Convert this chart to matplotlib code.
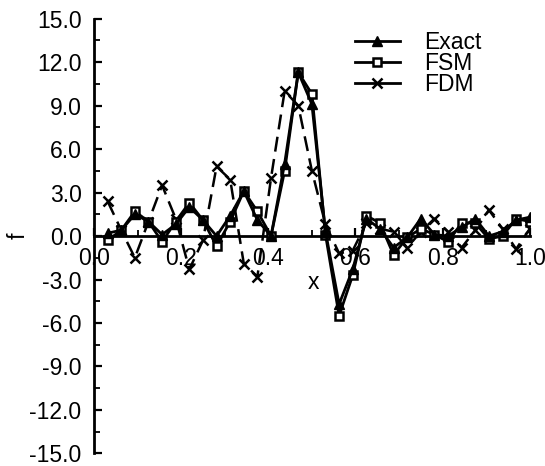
import numpy as np
import matplotlib
matplotlib.use("Agg")
import matplotlib.pyplot as plt
from matplotlib.ticker import MultipleLocator, FormatStrFormatter
from matplotlib.lines import Line2D

plt.rcParams['font.family'] = ['Liberation Sans', 'DejaVu Sans']

x = [k / 32 for k in range(1, 33)]

exact = [0.2, 0.4, 1.5, 1.0, 0.1, 0.8, 2.0, 1.1, 0.0, 1.4, 3.1, 1.1, 0.0, 5.0,
         11.3, 9.1, 0.3, -4.7, -2.3, 1.2, 0.5, -0.8, -0.1, 1.2, 0.1, 0.0,
         0.6, 1.2, 0.0, 0.3, 1.1, 1.3]
fsm = [-0.3, 0.4, 1.7, 1.0, -0.4, 1.0, 2.3, 1.1, -0.7, 1.0, 3.1, 1.7, 0.0, 4.5,
       11.3, 9.8, 0.1, -5.5, -2.7, 1.4, 0.9, -1.3, -0.1, 0.5, 0.1, -0.4,
       0.9, 0.9, -0.2, 0.0, 1.2, 1.0]
fdm = [2.4, 0.4, -1.5, 1.0, 3.5, 1.2, -2.3, -0.3, 4.8, 3.9, -1.9, -2.8, 4.0, 10.0,
       9.0, 4.5, 0.8, -1.2, -1.0, 0.9, 0.5, 0.3, -0.8, 0.3, 1.2, 0.3,
       -0.8, 0.4, 1.8, 0.5, -0.9, 0.5]

FS = 16.5

fig = plt.figure(figsize=(5.45, 4.66), dpi=100)
ax = fig.add_axes([0.1725, 0.027, 0.7995, 0.933])

ax.plot(x, fdm, color='black', lw=1.8, dashes=(6, 3), marker='x', ms=7.5,
        mew=1.8, zorder=2)
ax.plot(x, fsm, color='black', lw=2.0, marker='s', ms=6, mfc='white',
        mec='black', mew=1.8, zorder=3)
ax.plot(x, exact, color='black', lw=2.0, marker='^', ms=7.5, mfc='black',
        mec='black', zorder=4)

ax.set_xlim(0, 1.0)
ax.set_ylim(-15, 15)
for s in ['top', 'right']:
    ax.spines[s].set_visible(False)
ax.spines['bottom'].set_position(('data', 0))
ax.spines['bottom'].set_bounds(0, 1.0)
ax.spines['left'].set_linewidth(2.0)
ax.spines['bottom'].set_linewidth(2.0)

ax.xaxis.set_major_locator(MultipleLocator(0.2))
ax.xaxis.set_minor_locator(MultipleLocator(0.1))
ax.yaxis.set_major_locator(MultipleLocator(3.0))
ax.yaxis.set_minor_locator(MultipleLocator(1.5))
ax.xaxis.set_major_formatter(FormatStrFormatter('%.1f'))
ax.yaxis.set_major_formatter(FormatStrFormatter('%.1f'))
ax.tick_params(axis='both', which='major', direction='in', length=6, width=1.6,
               labelsize=FS)
ax.tick_params(axis='both', which='minor', direction='in', length=4, width=1.3)
ax.tick_params(axis='x', pad=8)
ax.tick_params(axis='y', pad=9)

ax.set_ylabel('f', fontsize=FS)
ax.yaxis.set_label_coords(-0.147, 0.5)
ax.text(0.503, -3.2, 'x', fontsize=FS, ha='center', va='center')

handles = [
    Line2D([], [], color='black', lw=2.0, marker='^', ms=7.5, mfc='black'),
    Line2D([], [], color='black', lw=2.0, marker='s', ms=6, mfc='white', mew=1.8),
    Line2D([], [], color='black', lw=2.0, marker='x', ms=7.5, mew=1.8),
]
labels = ['Exact', 'FSM', 'FDM']
leg = ax.legend(handles, labels, loc='upper left',
                bbox_to_anchor=(0.578, 0.993), frameon=False, fontsize=FS,
                handlelength=1.95, handletextpad=1.05, labelspacing=-0.08,
                borderaxespad=0)

fig.savefig('out.png', dpi=100)
